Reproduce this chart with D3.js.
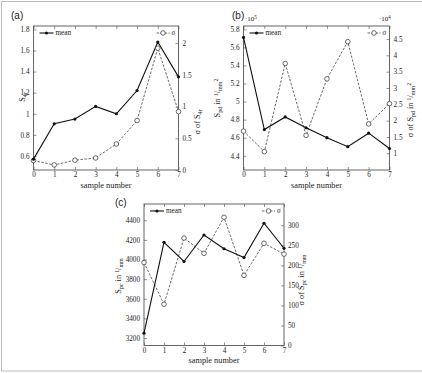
<!DOCTYPE html>
<html><head><meta charset="utf-8">
<script src="https://cdn.jsdelivr.net/npm/d3@7"></script>
<style>body{margin:0;background:#fff}svg{display:block}</style>
</head><body>
<script>
const samples = [0,1,2,3,4,5,6,7];
// panel (a)
const meanA  = [0.57,0.905,0.95,1.07,1.0,1.22,1.68,1.35];
const sigmaA = [0.15,0.08,0.155,0.19,0.41,0.78,1.92,0.92];
const leftTicksA  = [0.6,0.8,1,1.2,1.4,1.6,1.8];
const rightTicksA = [0,0.5,1,1.5,2];
// panel (b)  mean in 1e5, sigma in 1e4
const meanB  = [5.71,4.69,4.83,4.71,4.60,4.50,4.65,4.48];
const sigmaB = [1.68,1.05,3.75,1.55,3.28,4.42,1.90,2.52];
const leftTicksB  = [4.4,4.6,4.8,5,5.2,5.4,5.6,5.8];
const rightTicksB = [1,1.5,2,2.5,3,3.5,4,4.5];
// panel (c)
const meanC  = [3250,4175,3980,4250,4110,4020,4370,4115];
const sigmaC = [207,103,268,230,320,175,255,228];
const leftTicksC  = [3200,3400,3600,3800,4000,4200,4400];
const rightTicksC = [0,50,100,150,200,250,300];

const W = 422, H = 373;
const svg = d3.select("body").append("svg").attr("width", W).attr("height", H);
svg.append("rect").attr("x",1.5).attr("y",1.5).attr("width",W+5).attr("height",H-3.5)
  .attr("fill","none").attr("stroke","#bbb").attr("stroke-width",1);

const serif = "'Liberation Serif','DejaVu Serif',serif";
const ink = "#222";
const FS = 7.2;

function richText(g, parts, size){
  parts.forEach(([t, mode]) => {
    const ts = g.append("tspan").text(t);
    if (mode === "sub") ts.attr("baseline-shift","-25%").attr("font-size", size*0.72);
    else if (mode === "sup") ts.attr("baseline-shift","35%").attr("font-size", size*0.72);
    else ts.attr("baseline-shift","0%");
  });
}

function panel(cfg){
  const g = svg.append("g");
  const x = d3.scaleLinear().domain([0,7]).range([cfg.left, cfg.right]);
  const yL = d3.scaleLinear().domain(cfg.leftDomain).range([cfg.bottom, cfg.top]);
  const yR = d3.scaleLinear().domain(cfg.rightDomain).range([cfg.bottom, cfg.top]);

  const axB = d3.axisBottom(x).tickValues(samples).tickSizeInner(-3).tickSizeOuter(0).tickPadding(2).tickFormat(d3.format("d"));
  const axT = d3.axisTop(x).tickValues(samples).tickSizeInner(-3).tickSizeOuter(0).tickFormat("");
  const axL = d3.axisLeft(yL).tickValues(cfg.leftTicks).tickSizeInner(-3).tickSizeOuter(0).tickPadding(4).tickFormat(d=>String(d));
  const axR = d3.axisRight(yR).tickValues(cfg.rightTicks).tickSizeInner(-3).tickSizeOuter(0).tickPadding(4).tickFormat(d=>String(d));
  const gB = g.append("g").attr("transform",`translate(0,${cfg.bottom})`).call(axB);
  const gT = g.append("g").attr("transform",`translate(0,${cfg.top})`).call(axT);
  const gL = g.append("g").attr("transform",`translate(${cfg.left},0)`).call(axL);
  const gR = g.append("g").attr("transform",`translate(${cfg.right},0)`).call(axR);
  [gB,gT,gL,gR].forEach(a => {
    a.select(".domain").remove();
    a.selectAll("line").attr("stroke","#666").attr("stroke-width",0.7);
    a.selectAll("text").attr("font-family",serif).attr("font-size",FS).attr("fill",ink);
  });
  g.append("rect").attr("x",cfg.left).attr("y",cfg.top)
    .attr("width",cfg.right-cfg.left).attr("height",cfg.bottom-cfg.top)
    .attr("fill","none").attr("stroke","#555").attr("stroke-width",0.9);

  const lineM = d3.line().x((d,i)=>x(samples[i])).y(d=>yL(d));
  const lineS = d3.line().x((d,i)=>x(samples[i])).y(d=>yR(d));
  g.append("path").datum(cfg.sigma).attr("d",lineS).attr("fill","none")
    .attr("stroke","#444").attr("stroke-width",0.8).attr("stroke-dasharray","2.5,1.5");
  g.append("path").datum(cfg.mean).attr("d",lineM).attr("fill","none")
    .attr("stroke","#111").attr("stroke-width",1.1);
  g.selectAll(".ms").data(cfg.sigma).enter().append("circle")
    .attr("cx",(d,i)=>x(samples[i])).attr("cy",d=>yR(d)).attr("r",2.3)
    .attr("fill","#fff").attr("stroke","#444").attr("stroke-width",0.8);
  g.selectAll(".mm").data(cfg.mean).enter().append("circle")
    .attr("cx",(d,i)=>x(samples[i])).attr("cy",d=>yL(d)).attr("r",1.6)
    .attr("fill","#111");

  const ly = cfg.top + 7;
  g.append("line").attr("x1",cfg.left+6).attr("x2",cfg.left+20).attr("y1",ly).attr("y2",ly)
    .attr("stroke","#111").attr("stroke-width",1.1);
  g.append("circle").attr("cx",cfg.left+13).attr("cy",ly).attr("r",1.6).attr("fill","#111");
  g.append("text").attr("x",cfg.left+22).attr("y",ly+2.3).attr("font-family",serif)
    .attr("font-size",FS).attr("fill",ink).text("mean");
  g.append("line").attr("x1",cfg.right-22).attr("x2",cfg.right-9).attr("y1",ly).attr("y2",ly)
    .attr("stroke","#444").attr("stroke-width",0.8).attr("stroke-dasharray","2.5,1.5");
  g.append("circle").attr("cx",cfg.right-15.5).attr("cy",ly).attr("r",2.3)
    .attr("fill","#fff").attr("stroke","#444").attr("stroke-width",0.8);
  g.append("text").attr("x",cfg.right-7).attr("y",ly+2.3).attr("font-family",serif)
    .attr("font-style","italic").attr("font-size",FS).attr("fill",ink).text("σ");

  g.append("text").attr("x",(cfg.left+cfg.right)/2).attr("y",cfg.bottom+17.5)
    .attr("text-anchor","middle").attr("font-family",serif).attr("font-size",8.3)
    .attr("fill",ink).text("sample number");
  const tl = g.append("text").attr("transform",`translate(${cfg.ylx},${cfg.yly}) rotate(-90)`)
    .attr("text-anchor","middle").attr("font-family",serif).attr("font-size",8.3).attr("fill",ink);
  richText(tl, cfg.ylabel, 8.3);
  const tr = g.append("text").attr("transform",`translate(${cfg.yrx},${cfg.yry}) rotate(-90)`)
    .attr("text-anchor","middle").attr("font-family",serif).attr("font-size",8.3).attr("fill",ink);
  richText(tr, cfg.yrlabel, 8.3);
  g.append("text").attr("x",cfg.tagx).attr("y",cfg.tagy).attr("font-family","'Liberation Sans',Arial,sans-serif")
    .attr("font-size",10).attr("fill","#222").text(cfg.tag);
  return g;
}

panel({left:33.5,right:178.5,top:26,bottom:170,
  leftDomain:[0.467,1.832], rightDomain:[0,2.27],
  leftTicks:leftTicksA, rightTicks:rightTicksA, mean:meanA, sigma:sigmaA,
  ylx:25, yly:97, yrx:200, yry:122,
  ylabel:[["S",""],["4r","sub"]],
  yrlabel:[["σ of S",""],["4r","sub"]],
  tag:"(a)", tagx:11, tagy:19});

const gb = panel({left:243.5,right:389.5,top:26,bottom:170,
  leftDomain:[4.242,5.837], rightDomain:[0.489,4.898],
  leftTicks:leftTicksB, rightTicks:rightTicksB, mean:meanB, sigma:sigmaB,
  ylx:220, yly:98, yrx:413, yry:110,
  ylabel:[["S",""],["pd","sub"],[" in ",""],["1","sup"],["/",""],["mm","sub"],["2","sup"]],
  yrlabel:[["σ of S",""],["pd","sub"],[" in ",""],["1","sup"],["/",""],["mm","sub"],["2","sup"]],
  tag:"(b)", tagx:232, tagy:19});
[[245,"5"],[379,"4"]].forEach(([xx,e])=>{
  const t = gb.append("text").attr("x",xx).attr("y",21).attr("font-family",serif)
    .attr("font-size",7).attr("fill",ink);
  richText(t, [["·10",""],[e,"sup"]], 7);
});

panel({left:144,right:284,top:204,bottom:345.5,
  leftDomain:[3124,4566], rightDomain:[0,353],
  leftTicks:leftTicksC, rightTicks:rightTicksC, mean:meanC, sigma:sigmaC,
  ylx:121, yly:276, yrx:304, yry:280,
  ylabel:[["S",""],["pc","sub"],[" in ",""],["1","sup"],["/",""],["mm","sub"]],
  yrlabel:[["σ of S",""],["pc","sub"],[" in ",""],["1","sup"],["/",""],["mm","sub"]],
  tag:"(c)", tagx:115, tagy:206});
</script>
</body></html>
